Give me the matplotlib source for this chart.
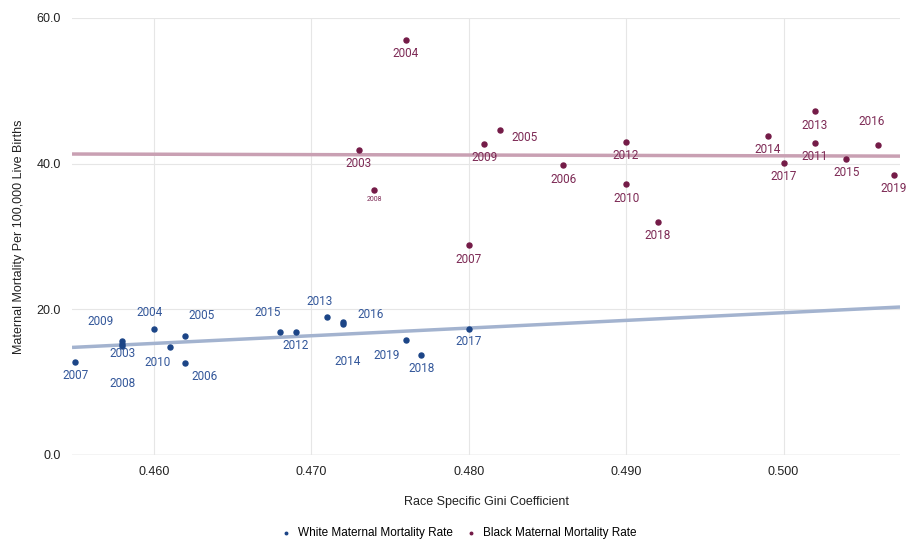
import matplotlib.pyplot as plt
import numpy as np

# Data
white_years = [2007, 2009, 2003, 2008, 2004, 2010, 2005, 2006, 2015, 2012,
               2013, 2016, 2014, 2019, 2018, 2017]
white_gini = [0.455, 0.458, 0.458, 0.458, 0.460, 0.461, 0.462, 0.462, 0.468, 0.469,
              0.471, 0.472, 0.472, 0.476, 0.477, 0.480]
white_rate = [12.8, 15.6, 15.3, 15.0, 17.3, 14.8, 16.3, 12.6, 16.9, 16.9,
              19.0, 18.2, 18.0, 15.8, 13.7, 17.3]

black_years = [2004, 2003, 2008, 2009, 2005, 2007, 2006, 2012, 2010, 2018,
               2014, 2017, 2013, 2011, 2015, 2016, 2019]
black_gini = [0.476, 0.473, 0.474, 0.481, 0.482, 0.480, 0.486, 0.490, 0.490, 0.492,
              0.499, 0.500, 0.502, 0.502, 0.504, 0.506, 0.507]
black_rate = [57.0, 41.9, 36.4, 42.7, 44.6, 28.8, 39.8, 43.0, 37.2, 32.0,
              43.8, 40.1, 47.2, 42.9, 40.7, 42.5, 38.5]

# label offsets (pixels) for each data label
white_off = {2007: (0, -14), 2009: (-22, 20), 2003: (0, -10), 2008: (0, -38),
             2004: (-4, 16), 2010: (-12, -15), 2005: (16, 21), 2006: (19, -13),
             2015: (-12, 19), 2012: (0, -14), 2013: (-7, 15), 2016: (28, 8),
             2014: (5, -38), 2019: (-19, -16), 2018: (0, -13), 2017: (0, -13)}
black_off = {2016: (-6, 24), 2005: (24, -7), 2008: (0, -10)}

white_col = '#1c4587'
white_lab = '#33579a'
black_col = '#741b47'
black_lab = '#7d2a55'

fig = plt.figure(figsize=(9.07, 5.41), dpi=100)
ax = fig.add_axes([0.0794, 0.159, 0.9129, 0.8078])

xlim = (0.4548, 0.5074)
ax.set_xlim(*xlim)
ax.set_ylim(0, 60)

# trendlines
xs = np.array(xlim)
for gx, ry, c in [(white_gini, white_rate, '#a3b3cf'), (black_gini, black_rate, '#c9a0b3')]:
    m, b = np.polyfit(gx, ry, 1)
    ax.plot(xs, m * xs + b, color=c, lw=2.5, zorder=2, solid_capstyle='butt')

ax.scatter(white_gini, white_rate, s=13, color=white_col, zorder=3,
           label='White Maternal Mortality Rate')
ax.scatter(black_gini, black_rate, s=13, color=black_col, zorder=3,
           label='Black Maternal Mortality Rate')

for yr, gx, ry in zip(white_years, white_gini, white_rate):
    dx, dy = white_off[yr]
    ax.annotate(str(yr), (gx, ry), xytext=(dx, dy), textcoords='offset pixels',
                ha='center', va='center', fontsize=8.5, color=white_lab,
                family='Roboto', zorder=4)
for yr, gx, ry in zip(black_years, black_gini, black_rate):
    dx, dy = black_off.get(yr, (0, -14))
    fs = 5 if yr == 2008 else 8.5
    ax.annotate(str(yr), (gx, ry), xytext=(dx, dy), textcoords='offset pixels',
                ha='center', va='center', fontsize=fs, color=black_lab,
                family='Roboto', zorder=4, annotation_clip=False)

ax.set_xticks([0.460, 0.470, 0.480, 0.490, 0.500])
ax.set_xticklabels(['0.460', '0.470', '0.480', '0.490', '0.500'])
ax.set_yticks([0, 20, 40, 60])
ax.set_yticklabels(['0.0', '20.0', '40.0', '60.0'])
ax.tick_params(length=0, labelsize=9, labelcolor='#222222', pad=8)
for lab in ax.get_xticklabels() + ax.get_yticklabels():
    lab.set_family('Liberation Sans')
ax.grid(True, color='#e6e6e6', lw=0.8, zorder=0)
ax.axhline(0, color='#cccccc', lw=1, zorder=1)
for s in ax.spines.values():
    s.set_visible(False)

ax.set_xlabel('Race Specific Gini Coefficient', fontsize=9, family='Liberation Sans',
              color='#222222', labelpad=13)
ax.set_ylabel('Maternal Mortality Per 100,000 Live Births', fontsize=9,
              family='Liberation Sans', color='#222222', labelpad=8)

leg = fig.legend(loc='center', bbox_to_anchor=(0.502, 0.015), ncol=2, frameon=False,
                 prop={'family': 'Liberation Sans', 'size': 8.5},
                 handletextpad=0.0, columnspacing=0.6, markerscale=0.5)

plt.savefig('out.png', dpi=100)
